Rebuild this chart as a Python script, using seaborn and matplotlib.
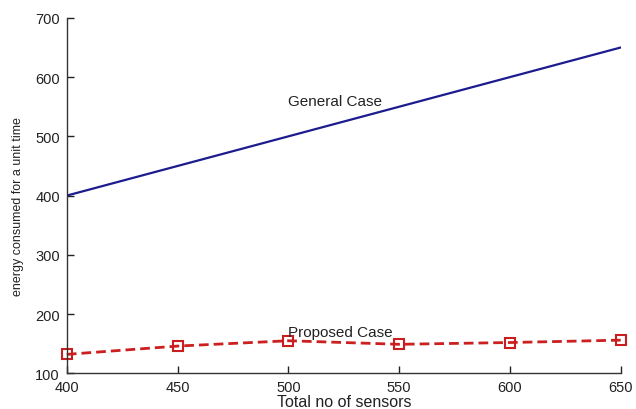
import matplotlib
matplotlib.use("Agg")
import matplotlib.pyplot as plt
import seaborn as sns
import pandas as pd

sensors = [400, 450, 500, 550, 600, 650]
general_case = [400, 450, 500, 550, 600, 650]
proposed_case = [132, 146, 155, 149, 152, 156]
x_ticks = [400, 450, 500, 550, 600, 650]
y_ticks = [100, 200, 300, 400, 500, 600, 700]

sns.set_theme(style="ticks")
plt.rcParams['font.family'] = ['Liberation Sans', 'DejaVu Sans']

df = pd.DataFrame({"sensors": sensors, "general": general_case, "proposed": proposed_case})

fig = plt.figure(figsize=(6.36, 4.10), dpi=100)
ax = fig.add_axes([0.105, 0.087, 0.871, 0.867])

sns.lineplot(data=df, x="sensors", y="general", ax=ax, color="#1c1c8e", linewidth=1.6)
sns.lineplot(data=df, x="sensors", y="proposed", ax=ax, color="#cc1f1f", linewidth=2.0,
             linestyle=(0, (3.5, 1.8)), marker="s", markersize=7.5, markerfacecolor="none",
             markeredgecolor="#c81e1e", markeredgewidth=1.5, clip_on=False)

ax.text(500, 559, "General Case", fontsize=11, color="#222222", ha="left", va="center")
ax.text(500, 170, "Proposed Case", fontsize=11, color="#222222", ha="left", va="center")

ax.set_xlim(400, 650)
ax.set_ylim(100, 700)
ax.set_xticks(x_ticks)
ax.set_yticks(y_ticks)
ax.tick_params(direction="in", length=5, width=1, labelsize=10.5, colors="#222222")
ax.tick_params(axis="y", pad=5)
ax.tick_params(axis="x", pad=5)
ax.set_xlabel("Total no of sensors", fontsize=11.5, color="#222222", labelpad=0)
ax.set_ylabel("energy consumed for a unit time", fontsize=9, color="#222222")
ax.yaxis.set_label_coords(-0.078, 0.473)
for s in ["top", "right"]:
    ax.spines[s].set_visible(False)
for s in ["left", "bottom"]:
    ax.spines[s].set_color("#333333")
    ax.spines[s].set_linewidth(1.0)

fig.savefig("out.png", dpi=100)
